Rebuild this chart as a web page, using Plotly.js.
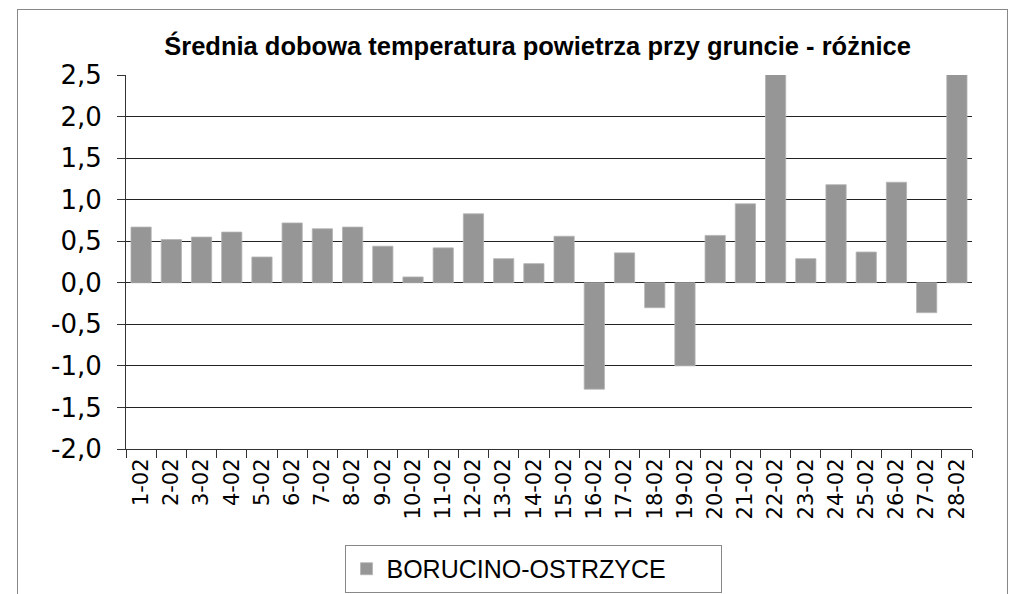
<!DOCTYPE html>
<html>
<head>
<meta charset="utf-8">
<script src="https://cdn.plot.ly/plotly-3.0.1.min.js"></script>
<style>
html,body{margin:0;padding:0;background:#fff;overflow:hidden;}
#wrap{position:relative;width:1022px;height:594px;}
#chart{width:1022px;height:594px;}
#frame{position:absolute;left:17px;top:9px;width:989px;height:640px;border:1px solid #888;pointer-events:none;}
</style>
</head>
<body>
<div id="wrap"><div id="chart"></div><div id="frame"></div></div>
<script>
const categories = ["1-02","2-02","3-02","4-02","5-02","6-02","7-02","8-02","9-02","10-02","11-02","12-02","13-02","14-02","15-02","16-02","17-02","18-02","19-02","20-02","21-02","22-02","23-02","24-02","25-02","26-02","27-02","28-02"];
const seriesName = "BORUCINO-OSTRZYCE";
const values = [0.67,0.52,0.55,0.61,0.31,0.72,0.65,0.67,0.44,0.07,0.42,0.83,0.29,0.23,0.56,-1.28,0.36,-0.30,-1.00,0.57,0.95,2.8,0.29,1.18,0.37,1.21,-0.36,3.0];
const yTickVals = [-2.0,-1.5,-1.0,-0.5,0.0,0.5,1.0,1.5,2.0,2.5];
const yTickLabels = ["-2,0","-1,5","-1,0","-0,5","0,0","0,5","1,0","1,5","2,0","2,5"];
const titleText = "Średnia dobowa temperatura powietrza przy gruncie - różnice";

Plotly.newPlot('chart', [{
  type: 'bar',
  x: categories,
  y: values,
  name: seriesName,
  marker: {color: '#969696', line: {color: '#b4b4b4', width: 0.8}},
  showlegend: true
}], {
  width: 1022, height: 594,
  margin: {l: 126, r: 50, t: 75, b: 145},
  paper_bgcolor: '#fff', plot_bgcolor: '#fff',
  bargap: 0.33,
  title: {text: titleText, x: 0.526, xanchor: 'center', y: 0.922, yanchor: 'middle',
    font: {family: '"Liberation Sans", Arial, sans-serif', size: 25.5, color: '#000', weight: 'bold'}},
  xaxis: {
    type: 'category', tickangle: -90, tickson: 'boundaries', ticks: 'outside', ticklen: 8, tickcolor: '#333',
    showline: true, linecolor: '#333', linewidth: 1, showgrid: false, automargin: false,
    tickfont: {family: '"DejaVu Sans", sans-serif', size: 21, color: '#000'}, fixedrange: true
  },
  yaxis: {
    range: [-2.0, 2.5], tickvals: yTickVals, ticktext: yTickLabels, ticks: 'outside', ticklen: 8, tickcolor: '#333',
    ticklabelstandoff: 10,
    showline: true, linecolor: '#333', linewidth: 1, showgrid: true, gridcolor: '#222', gridwidth: 1,
    zeroline: true, zerolinecolor: '#222', zerolinewidth: 1, automargin: false,
    tickfont: {family: '"DejaVu Sans", sans-serif', size: 26, color: '#000'}, fixedrange: true
  },
  legend: {orientation: 'h', x: 0.5225, xref: 'container', xanchor: 'center', y: 0.0825, yref: 'container', yanchor: 'top',
    entrywidth: 330, entrywidthmode: 'pixels',
    bordercolor: '#888', borderwidth: 1, bgcolor: '#fff',
    font: {family: '"Liberation Sans", Arial, sans-serif', size: 25, color: '#000'}}
}, {staticPlot: true});
</script>
</body>
</html>
